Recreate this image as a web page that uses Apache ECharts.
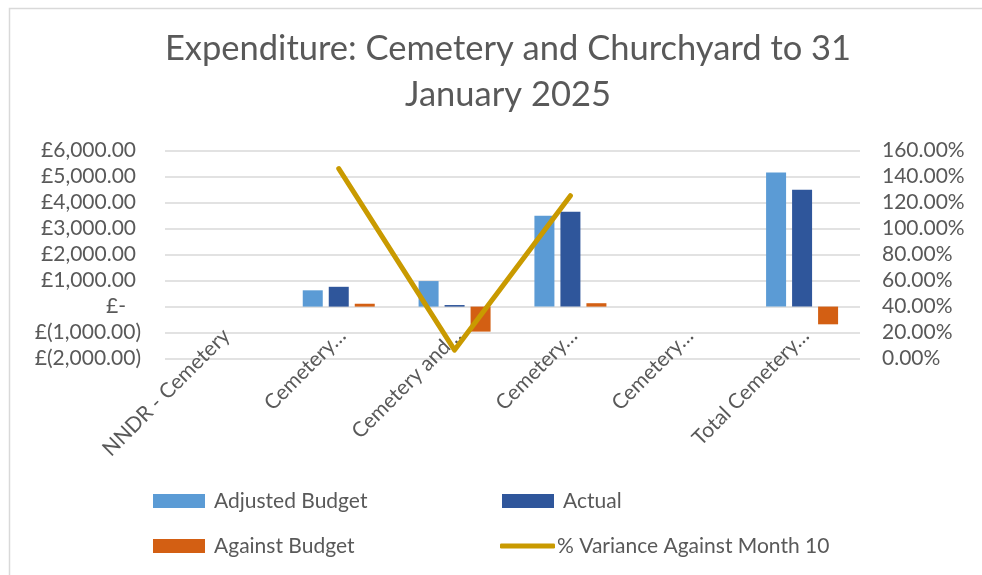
<!DOCTYPE html>
<html>
<head>
<meta charset="utf-8">
<script src="https://cdn.jsdelivr.net/npm/echarts@6/dist/echarts.min.js"></script>
<style>html,body{margin:0;padding:0;background:#fff;}#c{width:982px;height:575px;}</style>
</head>
<body>
<div id="c"></div>
<script>
const categories = ['NNDR - Cemetery', 'Cemetery…', 'Cemetery and…', 'Cemetery…', 'Cemetery…', 'Total Cemetery…'];
const adjustedBudget = [0, 625, 980, 3490, 0, 5150];
const actual = [0, 760, 60, 3640, 0, 4490];
const againstBudget = [0, 110, -960, 130, 0, -680];
const pctVariance = [null, 145.9, 6.6, 125.2, null, null];
const leftTicks = { min: -2000, max: 6000, interval: 1000 };
const rightTicks = { min: 0, max: 160, interval: 20 };

const FONT = 'Lato';
const TXT = '#595959';

function money(v) {
  if (v === 0) return '{z|£-}';
  const s = Math.abs(v).toLocaleString('en-GB', { minimumFractionDigits: 2, maximumFractionDigits: 2 });
  return v < 0 ? '{n|£(' + s + ')}' : '{p|£' + s + '}';
}

const chart = echarts.init(document.getElementById('c'), null, { renderer: 'canvas' });
const lab = { fontFamily: FONT, fontSize: 21, color: TXT };
const legText = { fontFamily: FONT, fontSize: 21, color: TXT, lineHeight: 25 };
chart.setOption({
  animation: false,
  backgroundColor: '#fff',
  graphic: [{
    type: 'rect', left: 7, top: 6, silent: true,
    shape: { x: 0, y: 0, width: 1000, height: 600 },
    style: { fill: 'none', stroke: '#D9D9D9', lineWidth: 1.5 }
  }],
  title: {
    text: 'Expenditure: Cemetery and Churchyard to 31\nJanuary 2025',
    left: 503, top: 21, textAlign: 'center',
    textStyle: { fontFamily: FONT, fontSize: 34.5, fontWeight: 'normal', color: TXT, lineHeight: 46 }
  },
  grid: { left: 165, right: 122, top: 150.3, bottom: 216.3, containLabel: false },
  legend: [
    { orient: 'vertical', left: 153, top: 488.5, padding: 0, itemWidth: 52, itemHeight: 14, itemGap: 20,
      icon: 'rect', data: ['Adjusted Budget', 'Against Budget'],
      textStyle: { ...legText, padding: [0, 0, 0, 4] } },
    { orient: 'vertical', left: 502, top: 488.5, padding: 0, itemWidth: 52, itemHeight: 14,
      icon: 'rect', data: ['Actual'],
      textStyle: { ...legText, padding: [0, 0, 0, 4] } },
    { orient: 'vertical', left: 500, top: 533.5, padding: 0, itemWidth: 55, itemHeight: 5,
      icon: 'roundRect', data: ['% Variance Against Month 10'],
      textStyle: { ...legText, padding: [0, 0, 0, -3] } }
  ],
  xAxis: {
    type: 'category', data: categories,
    axisLine: { show: false }, axisTick: { show: false },
    axisLabel: { rotate: 45, margin: -30, interval: 0, verticalAlign: 'top', lineHeight: 10,
      fontFamily: FONT, fontSize: 21, color: TXT }
  },
  yAxis: [
    { type: 'value', min: leftTicks.min, max: leftTicks.max, interval: leftTicks.interval,
      axisLine: { show: false }, axisTick: { show: false },
      splitLine: { lineStyle: { color: '#D9D9D9', width: 1.5 } },
      axisLabel: { margin: 24, formatter: money, ...lab,
        rich: { p: { ...lab, padding: [0, 5, 0, 0] }, z: { ...lab, padding: [0, 15, 0, 0] }, n: { ...lab } } } },
    { type: 'value', min: rightTicks.min, max: rightTicks.max, interval: rightTicks.interval,
      position: 'right',
      axisLine: { show: false }, axisTick: { show: false }, splitLine: { show: false },
      axisLabel: { margin: 22, formatter: v => v.toFixed(2) + '%', ...lab } }
  ],
  series: [
    { name: 'Adjusted Budget', type: 'bar', data: adjustedBudget, barWidth: 20, barGap: '30%',
      itemStyle: { color: '#5B9BD5' } },
    { name: 'Actual', type: 'bar', data: actual, barWidth: 20, barGap: '30%',
      itemStyle: { color: '#2F569B' } },
    { name: 'Against Budget', type: 'bar', data: againstBudget, barWidth: 20, barGap: '30%',
      itemStyle: { color: '#D35F13' } },
    { name: '% Variance Against Month 10', type: 'line', yAxisIndex: 1, data: pctVariance,
      symbol: 'none', connectNulls: false,
      lineStyle: { color: '#C99A00', width: 5, cap: 'round', join: 'round' },
      itemStyle: { color: '#C99A00' } }
  ]
});
</script>
</body>
</html>
